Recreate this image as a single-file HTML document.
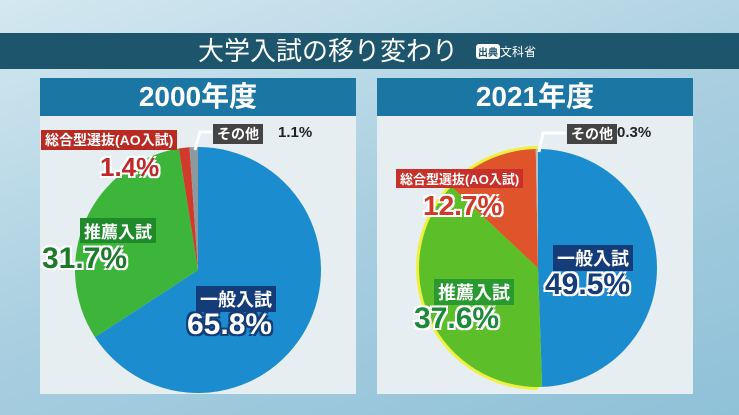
<!DOCTYPE html>
<html><head><meta charset="utf-8"><style>
body{margin:0;width:739px;height:415px;overflow:hidden;font-family:"Liberation Sans","Noto Sans CJK JP",sans-serif;background:linear-gradient(160deg,#d4e8f0 0%,#a9cfe0 50%,#8fc1d8 100%);position:relative}
.title{position:absolute;left:0;top:33px;width:739px;height:36px;background:#1d566c;color:#fff}
.panel{position:absolute;top:78px;width:316px;height:316px;background:#e6eef2}
.ph{height:38px;background:#1b76a4;color:#fff;font-size:28px;font-weight:bold;text-align:center;line-height:38px}
.lab{position:absolute;font-weight:bold;white-space:nowrap}
</style></head><body>
<div class="title">
<span style="position:absolute;left:198px;top:1px;font-size:26px;line-height:34px">大学入試の移り変わり</span>
<span style="position:absolute;left:476px;top:11px;font-size:10px;background:#fff;color:#1d566c;border-radius:3px;padding:0 2px;font-weight:bold">出典</span>
<span style="position:absolute;left:500px;top:10px;font-size:12px">文科省</span>
</div>
<div class="panel" style="left:40px"><div class="ph">2000年度</div></div>
<div class="panel" style="left:377px"><div class="ph">2021年度</div></div>
<svg id="pies" width="739" height="415" style="position:absolute;left:0;top:0">
<polyline points="195,150 200,132 212,132" fill="none" stroke="#fff" stroke-width="3"/>
<polyline points="539,152 543,133 566,133" fill="none" stroke="#fff" stroke-width="3"/>
</svg>
<script>
const categories=["一般入試","推薦入試","総合型選抜","その他"];
const values2000=[65.8,31.7,1.4,1.1];
const values2021=[49.5,37.6,12.7,0.3];
const colors2000=["#1b8dcf","#3cb53a","#d23a2c","#8c9aa0"];
const colors2021=["#1b8dcf","#5cbf2a","#e0542c","#b8c0c4"];
const NS="http://www.w3.org/2000/svg";
const svg=document.getElementById('pies');
function pt(cx,cy,r,f){const a=f*2*Math.PI;return [cx+r*Math.sin(a),cy-r*Math.cos(a)];}
function drawPie(vals,cols,cx,cy,r,name,outline){
  const tot=vals.reduce((a,b)=>a+b,0);let acc=0;
  if(outline){const c=document.createElementNS(NS,'path');
    const p0=pt(cx,cy,r+3,0.5),p1=pt(cx,cy,r+3,1);
    c.setAttribute('d',`M${p0[0]},${p0[1]} A${r+3},${r+3} 0 0 1 ${p1[0]},${p1[1]} Z`);
    c.setAttribute('fill','#f0f040');
    
    svg.insertBefore(c,svg.firstChild);}
  vals.forEach((v,i)=>{const s=acc/tot,e=(acc+v)/tot;acc+=v;
    const a=pt(cx,cy,r,s),b=pt(cx,cy,r,e);
    const p=document.createElementNS(NS,'path');
    p.setAttribute('d',`M${cx},${cy} L${a[0]},${a[1]} A${r},${r} 0 ${e-s>0.5?1:0} 1 ${b[0]},${b[1]} Z`);
    p.setAttribute('fill',cols[i]);
    
    
    svg.insertBefore(p,svg.querySelector('polyline'));});
}
drawPie(values2000,colors2000,198,270,123,'pie-2000',false);
drawPie(values2021,colors2021,538,268,119,'pie-2021',true);
function label(x,y,txt,bg,fg,size,name,outline){const d=document.createElement('div');d.className='lab';
  d.style.left=x+'px';d.style.top=y+'px';d.style.fontSize=size+'px';d.style.color=fg;
  if(bg){d.style.background=bg;d.style.padding='0 4px';}
  if(outline){d.style.textShadow='-2px -2px 0 '+outline+',2px -2px 0 '+outline+',-2px 2px 0 '+outline+',2px 2px 0 '+outline;}
  d.textContent=txt;
  
  
  document.body.appendChild(d);}
label(41,130,"総合型選抜(AO入試)","#b82a22","#fff",14,'ao-label-2000');
label(100,152,values2000[2]+"%",null,"#c0282a",26,'ao-value-2000','#fff');
label(213,124,"その他","#444","#fff",14,'other-label-2000');
label(278,124,values2000[3]+"%",null,"#222",15,'other-value-2000');
label(80,218,"推薦入試","#1f8a2a","#fff",17,'rec-label-2000');
label(42,242,values2000[1]+"%",null,"#1d7a2a",30,'rec-value-2000','#fff');
label(196,286,"一般入試","#143c78","#fff",18,'gen-label-2000');
label(187,308,values2000[0]+"%",null,"#fff",30,'gen-value-2000','#143c78');
label(396,169,"総合型選抜(AO入試)","#c8302a","#fff",13,'ao-label-2021');
label(423,190,values2021[2]+"%",null,"#d03828",28,'ao-value-2021','#fff');
label(567,124,"その他","#444","#fff",14,'other-label-2021');
label(617,124,values2021[3]+"%",null,"#222",15,'other-value-2021');
label(434,279,"推薦入試","#2a9a30","#fff",18,'rec-label-2021');
label(414,302,values2021[1]+"%",null,"#1d8a3a",30,'rec-value-2021','#fff');
label(553,245,"一般入試","#143c78","#fff",18,'gen-label-2021');
label(545,268,values2021[0]+"%",null,"#143c78",30,'gen-value-2021','#fff');
</script>
</body></html>
